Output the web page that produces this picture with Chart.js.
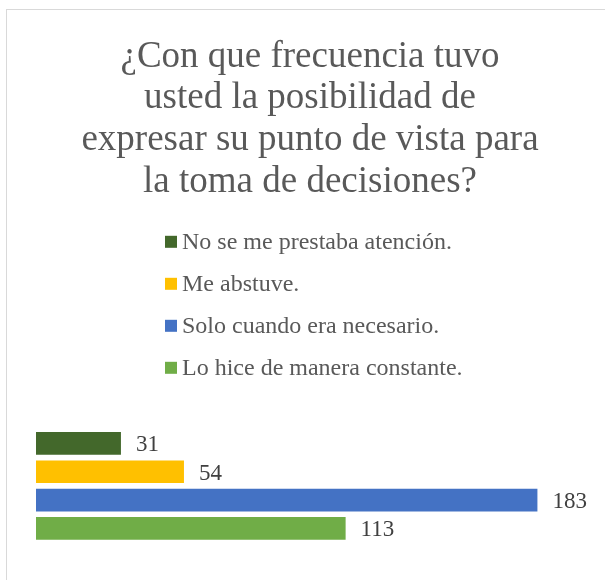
<!DOCTYPE html>
<html>
<head>
<meta charset="utf-8">
<script src="https://cdn.jsdelivr.net/npm/chart.js@4.4.1/dist/chart.umd.min.js"></script>
<style>
  html, body { margin: 0; padding: 0; background: #fff; overflow: hidden; }
  body { width: 605px; height: 580px; position: relative; }
  #frame {
    position: absolute; left: 6px; top: 9px; width: 700px; height: 700px;
    border: 1px solid #d9d9d9; box-sizing: border-box;
  }
  #wrap { position: absolute; left: 7px; top: 10px; width: 598px; height: 570px; }
</style>
</head>
<body>
<div id="frame"></div>
<div id="wrap"><canvas id="myChart"></canvas></div>
<script>
const titleLines = ['¿Con que frecuencia tuvo', 'usted la posibilidad de', 'expresar su punto de vista para', 'la toma de decisiones?'];
const categories = ['Respuestas'];
const seriesLabels = ['No se me prestaba atención.', 'Me abstuve.', 'Solo cuando era necesario.', 'Lo hice de manera constante.'];
const seriesValues = [31, 54, 183, 113];
const seriesColors = ['#43682b', '#ffc000', '#4472c4', '#70ad47'];

const serif = "'Liberation Serif', 'Times New Roman', serif";

// legend drawn as a left-aligned column, like the original
const columnLegend = {
  id: 'columnLegend',
  afterDraw(chart) {
    const ctx = chart.ctx;
    const t = chart.titleBlock;
    const startY = t.top + 24 + titleLines.length * 41.7 + 41;
    ctx.save();
    ctx.font = '24px ' + serif;
    ctx.textBaseline = 'middle';
    ctx.textAlign = 'left';
    chart.data.datasets.forEach((ds, i) => {
      const y = startY + i * 42;
      ctx.fillStyle = ds.backgroundColor;
      ctx.fillRect(158, y - 6, 12, 12);
      ctx.fillStyle = '#595959';
      ctx.fillText(ds.label, 175, y + 1);
    });
    ctx.restore();
  }
};

const valueLabels = {
  id: 'valueLabels',
  afterDatasetsDraw(chart) {
    const ctx = chart.ctx;
    ctx.save();
    ctx.font = '23px ' + serif;
    ctx.fillStyle = '#404040';
    ctx.textBaseline = 'middle';
    ctx.textAlign = 'left';
    chart.data.datasets.forEach((ds, i) => {
      chart.getDatasetMeta(i).data.forEach((bar, j) => {
        ctx.fillText(ds.data[j], bar.x + 15, bar.y + 2);
      });
    });
    ctx.restore();
  }
};

new Chart(document.getElementById('myChart').getContext('2d'), {
  type: 'bar',
  data: {
    labels: categories,
    datasets: seriesLabels.map((label, i) => ({
      label: label,
      data: [seriesValues[i]],
      backgroundColor: seriesColors[i],
      borderWidth: 0,
      categoryPercentage: 0.858,
      barPercentage: 0.80
    }))
  },
  options: {
    indexAxis: 'y',
    responsive: true,
    maintainAspectRatio: false,
    animation: false,
    layout: { padding: { left: 29, right: 21, top: 0, bottom: 28 } },
    scales: {
      x: { display: false, min: 0, max: 200 },
      y: { display: false }
    },
    plugins: {
      legend: { display: false },
      tooltip: { enabled: false },
      title: {
        display: true,
        text: titleLines,
        color: '#595959',
        font: { family: serif, size: 37, weight: 'normal', lineHeight: 1.127 },
        padding: { top: 26, bottom: 217 }
      }
    }
  },
  plugins: [columnLegend, valueLabels]
});
</script>
</body>
</html>
